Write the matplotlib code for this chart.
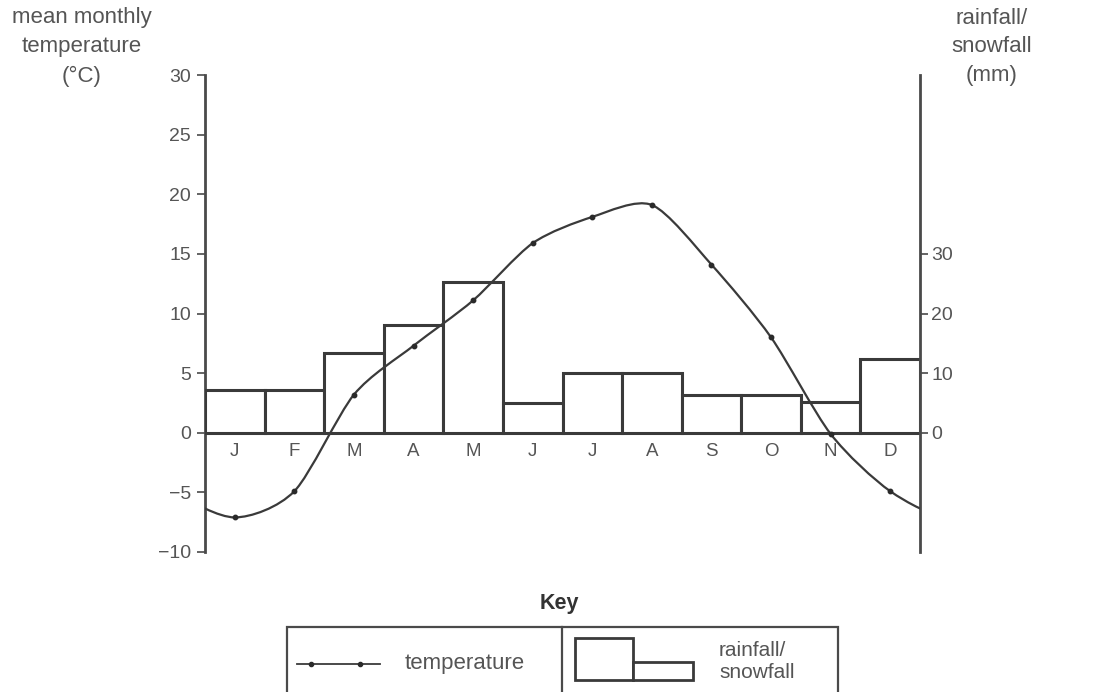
import matplotlib
matplotlib.use("Agg")
import matplotlib.pyplot as plt
from matplotlib.path import Path
from matplotlib.patches import PathPatch, Rectangle
from matplotlib.lines import Line2D
import numpy as np

plt.rcParams['font.family'] = ['Liberation Sans', 'DejaVu Sans']

months = ['J', 'F', 'M', 'A', 'M', 'J', 'J', 'A', 'S', 'O', 'N', 'D']
temperature = [-7.1, -4.9, 3.2, 7.3, 11.1, 15.9, 18.1, 19.1, 14.1, 8.0, -0.1, -4.9]
rainfall = [7.2, 7.2, 13.4, 18.0, 25.2, 5.0, 10.0, 10.0, 6.4, 6.4, 5.2, 12.4]
temp_ticks = [-10, -5, 0, 5, 10, 15, 20, 25, 30]
rain_ticks = [0, 10, 20, 30]

W, H = 1094, 692
fig = plt.figure(figsize=(W / 100, H / 100), dpi=100)
fig.patch.set_facecolor('white')

def fx(x):
    return x / W

def fy(y):
    return 1 - y / H

GREY = '#4a4a4a'
TXT = '#555555'

ax = fig.add_axes([fx(205), fy(552), fx(920) - fx(205), fy(75) - fy(552)])
ax.set_xlim(-0.5, 11.5)
ax.set_ylim(-10, 30)
ax.patch.set_alpha(0)
for s in ['top', 'bottom', 'right']:
    ax.spines[s].set_visible(False)
ax.spines['left'].set_color(GREY)
ax.spines['left'].set_linewidth(2)
ax.set_xticks([])
ax.set_yticks(temp_ticks)
ax.set_yticklabels([str(t) if t >= 0 else '\u2212' + str(-t) for t in temp_ticks])
ax.tick_params(axis='y', direction='out', length=6, width=1.2, color=GREY,
               labelsize=14, labelcolor=TXT, pad=4)

ax2 = ax.twinx()
ax2.set_ylim(-20, 60)
ax2.set_xlim(-0.5, 11.5)
for s in ['top', 'bottom', 'left']:
    ax2.spines[s].set_visible(False)
ax2.spines['right'].set_color(GREY)
ax2.spines['right'].set_linewidth(2)
ax2.set_yticks(rain_ticks)
ax2.tick_params(axis='y', direction='out', length=6, width=1.2, color=GREY,
                labelsize=14, labelcolor=TXT, pad=2)

x = np.arange(len(months))
ax2.bar(x, rainfall, width=1.0, bottom=0, facecolor='white', edgecolor='#3a3a3a',
        linewidth=2.2, zorder=2)
ax.axhline(0, color=GREY, lw=1.6, zorder=3)

# smooth temperature curve (cyclic Catmull-Rom rendered as Bezier path)
n = len(temperature)
ext_x = np.arange(-2, n + 2)
ext_y = np.array([temperature[i % n] for i in ext_x])
verts = [(ext_x[1], ext_y[1])]
codes = [Path.MOVETO]
for i in range(1, len(ext_x) - 2):
    p0 = np.array([ext_x[i - 1], ext_y[i - 1]], float)
    p1 = np.array([ext_x[i], ext_y[i]], float)
    p2 = np.array([ext_x[i + 1], ext_y[i + 1]], float)
    p3 = np.array([ext_x[i + 2], ext_y[i + 2]], float)
    c1 = p1 + (p2 - p0) / 7.5
    c2 = p2 - (p3 - p1) / 7.5
    verts += [tuple(c1), tuple(c2), tuple(p2)]
    codes += [Path.CURVE4] * 3
curve = PathPatch(Path(verts, codes), facecolor='none', edgecolor='#3a3a3a',
                  lw=1.6, transform=ax.transData, zorder=5)
ax2.add_patch(curve)
ax2.plot(x, temperature, linestyle='none', marker='o', markersize=3.2,
         color='#2a2a2a', transform=ax.transData, zorder=6)

for i, m in enumerate(months):
    ax.text(i, -1.55, m, ha='center', va='center', fontsize=13.5, color=TXT)

fig.text(fx(82), fy(47), 'mean monthly\ntemperature\n(\u00b0C)', ha='center', va='center',
         fontsize=16, color=TXT, linespacing=1.5)
fig.text(fx(992), fy(47), 'rainfall/\nsnowfall\n(mm)', ha='center', va='center',
         fontsize=16, color=TXT, linespacing=1.5)

# Key
fig.text(fx(559), fy(603), 'Key', ha='center', va='center', fontsize=15.5,
         fontweight='bold', color='#333333')
key_box = Rectangle((fx(287), fy(700)), fx(838) - fx(287), fy(627) - fy(700),
                    transform=fig.transFigure, facecolor='none', edgecolor=GREY, lw=1.6)
fig.patches.append(key_box)
fig.lines.append(Line2D([fx(562), fx(562)], [fy(627), fy(700)],
                        transform=fig.transFigure, color=GREY, lw=1.6))
fig.lines.append(Line2D([fx(297), fx(380)], [fy(664), fy(664)],
                        transform=fig.transFigure, color='#3a3a3a', lw=1.3))
fig.lines.append(Line2D([fx(311), fx(360)], [fy(664), fy(664)], linestyle='none',
                        marker='o', markersize=3, color='#2a2a2a',
                        transform=fig.transFigure))
fig.text(fx(405), fy(664), 'temperature', ha='left', va='center', fontsize=16, color=TXT)
fig.patches.append(Rectangle((fx(575), fy(680)), fx(633) - fx(575), fy(638) - fy(680),
                             transform=fig.transFigure, facecolor='white',
                             edgecolor='#3a3a3a', lw=2))
fig.patches.append(Rectangle((fx(633), fy(680)), fx(693) - fx(633), fy(662) - fy(680),
                             transform=fig.transFigure, facecolor='white',
                             edgecolor='#3a3a3a', lw=2))
fig.text(fx(719), fy(661), 'rainfall/\nsnowfall', ha='left', va='center', fontsize=15,
         color=TXT, linespacing=1.2)

fig.savefig('out.png', dpi=100)
